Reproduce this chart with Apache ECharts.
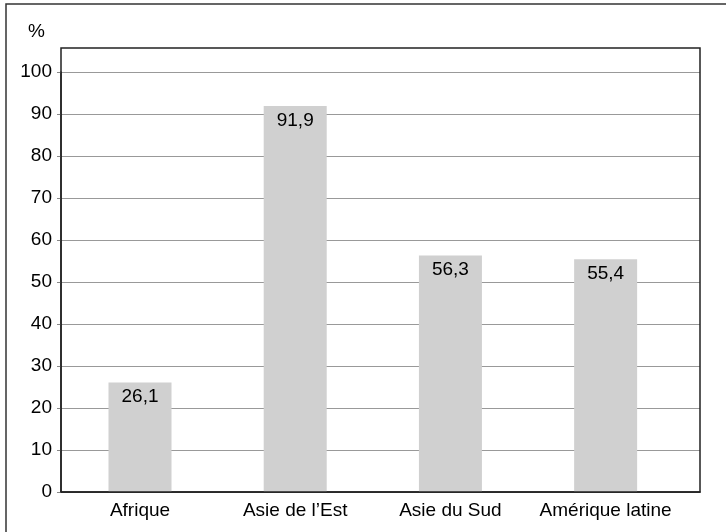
<!DOCTYPE html>
<html>
<head>
<meta charset="utf-8">
<style>
  html, body { margin: 0; padding: 0; background: #ffffff; }
  #chart { width: 726px; height: 532px; }
</style>
<script src="https://cdn.jsdelivr.net/npm/echarts@6/dist/echarts.min.js"></script>
</head>
<body>
<div id="chart"></div>
<script>
// Regions and their shares (%)
const categories = ['Afrique', 'Asie de l\u2019Est', 'Asie du Sud', 'Am\u00e9rique latine'];
const values = [26.1, 91.9, 56.3, 55.4];
const yTicks = [0, 10, 20, 30, 40, 50, 60, 70, 80, 90, 100];

const FONT = '"Liberation Sans", Arial, Helvetica, sans-serif';
const FS = 19;
const chart = echarts.init(document.getElementById('chart'), null, { renderer: 'canvas' });

const gridLeft = 61, gridRight = 26, gridTop = 72, gridBottom = 40;
const catIndex = categories.map((c, i) => i);

chart.setOption({
  animation: false,
  backgroundColor: '#ffffff',
  grid: { left: gridLeft, right: gridRight, top: gridTop, bottom: gridBottom, containLabel: false },
  xAxis: {
    type: 'value',
    min: -0.509,
    max: 3.608,
    axisLine: { show: true, onZero: false, lineStyle: { color: '#222222', width: 1.5 } },
    axisTick: { show: false },
    splitLine: { show: false },
    axisLabel: {
      customValues: catIndex,
      color: '#000000', fontSize: FS, fontFamily: FONT, margin: 9,
      formatter: v => categories[Math.round(v)] || ''
    }
  },
  yAxis: {
    type: 'value',
    min: yTicks[0],
    max: yTicks[yTicks.length - 1],
    interval: 10,
    axisLine: { show: true, onZero: false, lineStyle: { color: '#222222', width: 1.5 } },
    axisTick: { show: true, length: 4, lineStyle: { color: '#888888', width: 1 } },
    axisLabel: { color: '#000000', fontSize: FS, fontFamily: FONT, margin: 9,
      formatter: v => String(v) },
    splitLine: { show: true, lineStyle: { color: '#999999', width: 1.2 } }
  },
  series: [{
    type: 'bar',
    data: catIndex.map(i => [i, values[i]]),
    barWidth: 63,
    itemStyle: { color: '#d0d0d0' },
    label: {
      show: true,
      position: 'insideTop',
      distance: 5,
      color: '#000000',
      fontSize: FS,
      fontFamily: FONT,
      formatter: p => String(p.value[1]).replace('.', ',')
    },
    z: 3
  }],
  graphic: [
    // outer frame
    { type: 'rect', silent: true, z: 0,
      shape: { x: 6, y: 4, width: 740, height: 560 },
      style: { fill: 'none', stroke: '#333333', lineWidth: 1.5 } },
    // plot frame extending above the top tick
    { type: 'rect', silent: true, z: 10,
      shape: { x: gridLeft, y: 48, width: 726 - gridLeft - gridRight, height: 532 - gridBottom - 48 },
      style: { fill: 'none', stroke: '#222222', lineWidth: 1.5 } },
    // unit
    { type: 'text', silent: true, left: 28, top: 22,
      style: { text: '%', fill: '#000000', font: FS + 'px ' + FONT } }
  ]
});
</script>
</body>
</html>
